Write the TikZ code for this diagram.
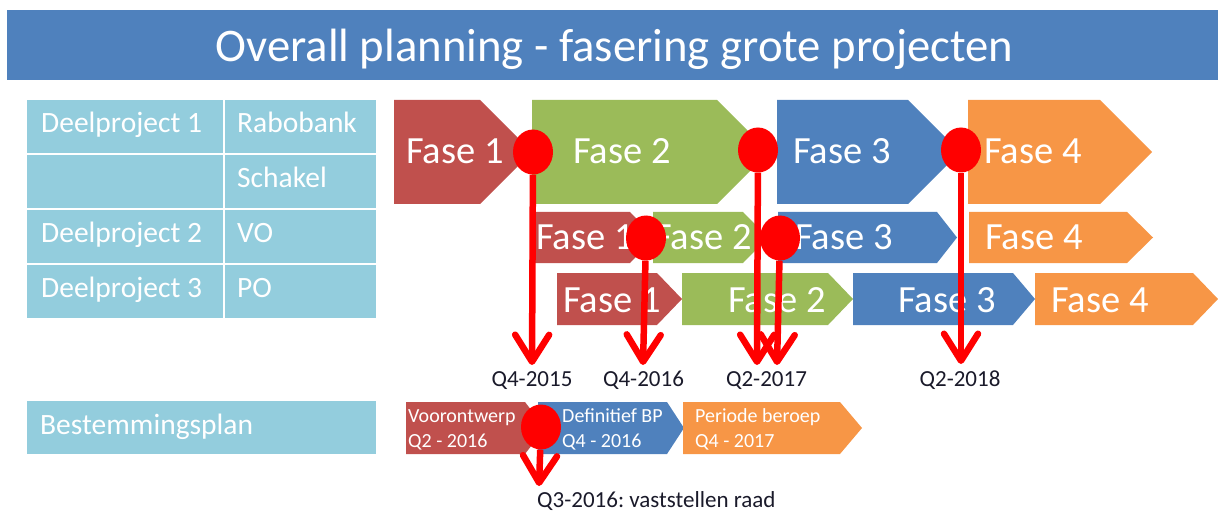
\documentclass[tikz,border=0pt]{standalone}
\usepackage{fontspec}
\setmainfont{Carlito}
\frenchspacing
\usetikzlibrary{arrows.meta, shapes.geometric}
\definecolor{faseRed}{HTML}{C0504D}
\definecolor{faseGreen}{HTML}{9BBB59}
\definecolor{faseBlue}{HTML}{4F81BD}
\definecolor{faseOrange}{HTML}{F79646}
\definecolor{cellBlue}{HTML}{93CDDD}
\definecolor{datumText}{HTML}{1A1A2A}
\tikzstyle{kop}      = [text=white, inner sep=0, font=\fontsize{46.7}{50}\selectfont]
\tikzstyle{celltext} = [text=white, inner sep=0, anchor=base west, font=\fontsize{29.5}{32}\selectfont]
\tikzstyle{fasetext} = [text=white, inner sep=0, anchor=base, font=\fontsize{38.5}{40}\selectfont]
\tikzstyle{bptext}   = [text=white, inner sep=0, anchor=base west, align=left, font=\fontsize{20}{25}\selectfont]
\tikzstyle{datum}    = [text=datumText, inner sep=0, font=\fontsize{23}{25}\selectfont]
\tikzstyle{mijlpaal} = [ellipse, fill=red, inner sep=0, minimum width=40pt, minimum height=45pt]
\tikzstyle{pijl}     = [draw=red, line width=6.5pt, -{Straight Barb[length=27pt,width=34pt,round]}]
% left, body end, tip, top, bottom, colour
\newcommand{\fase}[6]{\fill[#6] (#1,#4) -- (#2,#4) -- (#3,{(#4+#5)/2}) -- (#2,#5) -- (#1,#5) -- cycle;}

\begin{document}
\begin{tikzpicture}[x=1pt, y=-1pt]
	\useasboundingbox (0,0) rectangle (1218,513);

	% title
	\fill[faseBlue] (7,10) rectangle (1218,80);
	\node[kop, anchor=base] (titel) at (614.5,62) {Overall planning - fasering grote projecten};

	% table
	\fill[cellBlue] (27,100) rectangle (376,318);
	\foreach \y in {154,209,264}
		\draw[white, line width=2pt] (27,\y) -- (376,\y);
	\draw[white, line width=2pt] (224,100) -- (224,318);
	\fill[cellBlue] (27,401) rectangle (376,454);

	\node[celltext] (dp1) at (41,133) {Deelproject 1};
	\node[celltext] (rabo) at (237,133) {Rabobank};
	\node[celltext] (schakel) at (237,188) {Schakel};
	\node[celltext] (dp2) at (41,243) {Deelproject 2};
	\node[celltext] (vo) at (237,243) {VO};
	\node[celltext] (dp3) at (41,297) {Deelproject 3};
	\node[celltext] (po) at (237,297) {PO};
	\node[celltext] (bp) at (40,434) {Bestemmingsplan};

	% phases
	\fase{394}{480}{532}{100}{204}{faseRed}
	\fase{532}{717}{769}{100}{204}{faseGreen}
	\fase{777}{908}{960}{100}{204}{faseBlue}
	\fase{968}{1100}{1152}{100}{204}{faseOrange}

	\fase{533}{630}{655}{212}{263}{faseRed}
	\fase{653}{743}{768}{212}{263}{faseGreen}
	\fase{778}{937}{957}{212}{263}{faseBlue}
	\fase{969}{1127}{1153}{212}{263}{faseOrange}

	\fase{557}{657}{682}{273}{325}{faseRed}
	\fase{682}{828}{853}{273}{325}{faseGreen}
	\fase{853}{1013}{1035}{273}{325}{faseBlue}
	\fase{1035}{1193}{1218}{273}{325}{faseOrange}

	\fase{406}{525}{545}{402}{454}{faseRed}
	\fase{538}{667}{684}{402}{454}{faseBlue}
	\fase{683}{840}{862}{402}{454}{faseOrange}

	\node[fasetext] (a1) at (455,164) {Fase 1};
	\node[fasetext] (a2) at (622,164) {Fase 2};
	\node[fasetext] (a3) at (842,164) {Fase 3};
	\node[fasetext] (a4) at (1033,164) {Fase 4};
	\node[fasetext] (b1) at (585,249) {Fase 1};
	\node[fasetext] (b2) at (703,249) {Fase 2};
	\node[fasetext] (b3) at (844,249) {Fase 3};
	\node[fasetext] (b4) at (1034,249) {Fase 4};
	\node[fasetext] (c1) at (612,312) {Fase 1};
	\node[fasetext] (c2) at (777,312) {Fase 2};
	\node[fasetext] (c3) at (947,312) {Fase 3};
	\node[fasetext] (c4) at (1100,312) {Fase 4};

	% two lines: base is the last line
	\node[bptext] (vow) at (408,447) {Voorontwerp\\Q2 - 2016};
	\node[bptext] (defbp) at (562,447) {Definitief BP\\Q4 - 2016};
	\node[bptext] (beroep) at (695,447) {Periode beroep\\Q4 - 2017};

	% milestones
	\node[mijlpaal] (m1) at (533,152) {};
	\node[mijlpaal] (m2) at (758,150) {};
	\node[mijlpaal] (m3) at (961,150) {};
	\node[mijlpaal] (m4) at (646,238) {};
	\node[mijlpaal] (m5) at (780,238) {};
	\node[mijlpaal] (m6) at (541,427) {};

	\coordinate (d1) at (532,365);
	\coordinate (d2) at (643,365);
	\coordinate (d3) at (757,365);
	\coordinate (d4) at (777,365);
	\coordinate (d5) at (961,364);
	\coordinate (d6) at (539,486);

	\draw[pijl] (m1) -- (d1);
	\draw[pijl] (m4) -- (d2);
	\draw[pijl] (m2) -- (d3);
	\draw[pijl] (m5) -- (d4);
	\draw[pijl] (m3) -- (d5);
	\draw[pijl] (m6) -- (d6);

	\node[datum, anchor=base] (q1) at (532,386) {Q4-2015};
	\node[datum, anchor=base] (q2) at (643.5,386) {Q4-2016};
	\node[datum, anchor=base] (q3) at (766.5,386) {Q2-2017};
	\node[datum, anchor=base] (q4) at (960,386) {Q2-2018};
	\node[datum, anchor=base west] (raad) at (537,507) {Q3-2016: vaststellen raad};
\end{tikzpicture}
\end{document}
